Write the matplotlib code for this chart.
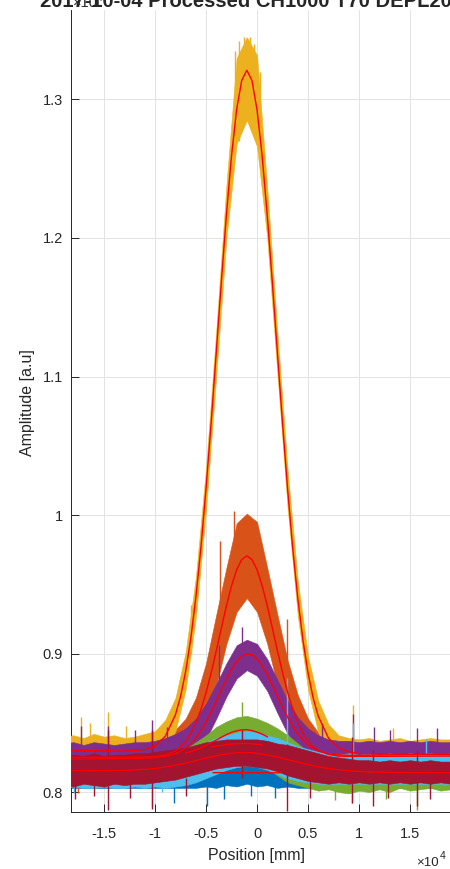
import matplotlib
matplotlib.use("Agg")
import matplotlib.pyplot as plt

plt.rcParams['font.family'] = ['Liberation Sans', 'DejaVu Sans']

# MATLAB default line colours, in plotting order
COLORS = {
    'blue': '#0072BD', 'orange': '#D95319', 'yellow': '#EDB120', 'purple': '#7E2F8E',
    'green': '#77AC30', 'lightblue': '#4DBEEE', 'darkred': '#A2142F',
}
ORDER = ['blue', 'orange', 'yellow', 'purple', 'green', 'lightblue', 'darkred']

# measured traces: lower / upper edge of the noisy band, every 1000 mm
POS = [-19000, -18000, -17000, -16000, -15000, -14000, -13000, -12000, -11000, -10000,
       -9000, -8000, -7000, -6000, -5000, -4000, -3000, -2000, -1000, 0,
       1000, 2000, 3000, 4000, 5000, 6000, 7000, 8000, 9000, 10000,
       11000, 12000, 13000, 14000, 15000, 16000, 17000, 18000, 19000]

BLUE_HI = [0.824, 0.825, 0.824, 0.825, 0.824, 0.825, 0.824, 0.825, 0.824, 0.825,
           0.824, 0.824, 0.824, 0.823, 0.822, 0.821, 0.821, 0.822, 0.821, 0.822,
           0.821, 0.821, 0.822, 0.823, 0.824, 0.824, 0.825, 0.824, 0.825, 0.824,
           0.825, 0.824, 0.825, 0.824, 0.825, 0.824, 0.825, 0.824, 0.825]
BLUE_LO = [0.803, 0.803, 0.803, 0.803, 0.803, 0.803, 0.803, 0.803, 0.803, 0.803,
           0.803, 0.803, 0.803, 0.803, 0.804, 0.803, 0.805, 0.804, 0.806, 0.804,
           0.805, 0.803, 0.804, 0.803, 0.803, 0.803, 0.803, 0.803, 0.803, 0.803,
           0.803, 0.803, 0.803, 0.803, 0.803, 0.803, 0.803, 0.803, 0.803]

ORANGE_HI = [0.836, 0.835, 0.836, 0.837, 0.835, 0.836, 0.836, 0.835, 0.836, 0.837,
             0.840, 0.845, 0.853, 0.868, 0.893, 0.928, 0.962, 0.994, 1.001, 0.995,
             0.962, 0.928, 0.895, 0.870, 0.853, 0.843, 0.838, 0.836, 0.835, 0.836,
             0.836, 0.835, 0.836, 0.836, 0.835, 0.836, 0.836, 0.835, 0.836]
ORANGE_LO = [0.812, 0.812, 0.812, 0.812, 0.812, 0.812, 0.812, 0.812, 0.812, 0.812,
             0.813, 0.815, 0.820, 0.832, 0.851, 0.877, 0.907, 0.930, 0.940, 0.930,
             0.907, 0.877, 0.850, 0.831, 0.820, 0.815, 0.813, 0.812, 0.812, 0.812,
             0.812, 0.812, 0.812, 0.812, 0.812, 0.812, 0.812, 0.812, 0.812]

YELLOW_HI = [0.840, 0.841, 0.839, 0.842, 0.840, 0.841, 0.839, 0.840, 0.842, 0.844,
             0.852, 0.868, 0.901, 0.955, 1.034, 1.133, 1.238, 1.330, 1.345, 1.332,
             1.236, 1.131, 1.032, 0.952, 0.898, 0.866, 0.849, 0.841, 0.839, 0.838,
             0.839, 0.837, 0.838, 0.839, 0.837, 0.838, 0.839, 0.838, 0.838]
YELLOW_LO = [0.821, 0.820, 0.822, 0.820, 0.821, 0.820, 0.822, 0.821, 0.821, 0.823,
             0.829, 0.844, 0.874, 0.926, 1.004, 1.101, 1.200, 1.268, 1.285, 1.266,
             1.200, 1.102, 1.005, 0.927, 0.874, 0.843, 0.829, 0.822, 0.819, 0.818,
             0.819, 0.818, 0.819, 0.818, 0.819, 0.818, 0.819, 0.818, 0.819]

PURPLE_HI = [0.835, 0.836, 0.834, 0.836, 0.835, 0.834, 0.835, 0.836, 0.836, 0.837,
             0.839, 0.842, 0.846, 0.853, 0.864, 0.878, 0.893, 0.906, 0.910, 0.907,
             0.896, 0.881, 0.866, 0.854, 0.846, 0.841, 0.838, 0.837, 0.837, 0.836,
             0.837, 0.836, 0.837, 0.836, 0.837, 0.836, 0.837, 0.836, 0.836]
PURPLE_LO = [0.813, 0.813, 0.813, 0.813, 0.813, 0.813, 0.813, 0.813, 0.813, 0.813,
             0.814, 0.816, 0.820, 0.827, 0.838, 0.853, 0.869, 0.882, 0.888, 0.884,
             0.873, 0.857, 0.842, 0.830, 0.822, 0.818, 0.816, 0.815, 0.815, 0.815,
             0.815, 0.815, 0.815, 0.815, 0.815, 0.815, 0.815, 0.815, 0.815]

GREEN_HI = [0.821, 0.822, 0.821, 0.822, 0.821, 0.822, 0.821, 0.822, 0.821, 0.822,
            0.824, 0.827, 0.831, 0.836, 0.841, 0.847, 0.851, 0.854, 0.855, 0.853,
            0.850, 0.846, 0.841, 0.835, 0.829, 0.824, 0.822, 0.821, 0.822, 0.821,
            0.822, 0.821, 0.822, 0.821, 0.822, 0.821, 0.822, 0.821, 0.822]
GREEN_LO = [0.805, 0.804, 0.806, 0.805, 0.804, 0.806, 0.805, 0.805, 0.806, 0.805,
            0.806, 0.806, 0.807, 0.809, 0.811, 0.814, 0.818, 0.821, 0.822, 0.820,
            0.817, 0.812, 0.807, 0.805, 0.803, 0.801, 0.802, 0.800, 0.799, 0.801,
            0.800, 0.802, 0.800, 0.803, 0.801, 0.802, 0.803, 0.801, 0.802]

LIGHTBLUE_HI = [0.824, 0.823, 0.824, 0.823, 0.824, 0.823, 0.824, 0.823, 0.824, 0.825,
                0.826, 0.827, 0.829, 0.832, 0.836, 0.839, 0.841, 0.843, 0.844, 0.843,
                0.841, 0.839, 0.836, 0.833, 0.831, 0.829, 0.828, 0.827, 0.828, 0.827,
                0.828, 0.827, 0.828, 0.827, 0.828, 0.827, 0.828, 0.827, 0.828]
LIGHTBLUE_LO = [0.803, 0.804, 0.803, 0.803, 0.804, 0.803, 0.803, 0.804, 0.803, 0.804,
                0.803, 0.804, 0.805, 0.807, 0.810, 0.813, 0.816, 0.818, 0.819, 0.818,
                0.816, 0.813, 0.810, 0.808, 0.807, 0.806, 0.806, 0.806, 0.806, 0.806,
                0.806, 0.806, 0.806, 0.806, 0.806, 0.806, 0.806, 0.806, 0.806]

DARKRED_HI = [0.826, 0.827, 0.826, 0.828, 0.826, 0.827, 0.827, 0.828, 0.828, 0.829,
              0.830, 0.831, 0.832, 0.834, 0.836, 0.837, 0.838, 0.838, 0.838, 0.838,
              0.837, 0.835, 0.834, 0.832, 0.830, 0.828, 0.826, 0.825, 0.824, 0.823,
              0.823, 0.822, 0.823, 0.822, 0.823, 0.822, 0.823, 0.822, 0.822]
DARKRED_LO = [0.805, 0.804, 0.806, 0.805, 0.804, 0.806, 0.805, 0.806, 0.806, 0.807,
              0.808, 0.809, 0.811, 0.813, 0.815, 0.817, 0.818, 0.819, 0.819, 0.818,
              0.817, 0.815, 0.812, 0.810, 0.808, 0.807, 0.806, 0.807, 0.806, 0.807,
              0.806, 0.807, 0.806, 0.807, 0.806, 0.807, 0.806, 0.807, 0.806]

BANDS = {
    'blue': (BLUE_LO, BLUE_HI), 'orange': (ORANGE_LO, ORANGE_HI),
    'yellow': (YELLOW_LO, YELLOW_HI), 'purple': (PURPLE_LO, PURPLE_HI),
    'green': (GREEN_LO, GREEN_HI), 'lightblue': (LIGHTBLUE_LO, LIGHTBLUE_HI),
    'darkred': (DARKRED_LO, DARKRED_HI),
}

# single-sample spikes sticking out of the bands: (position, low, high)
SPIKES = {
    'blue': [(-8100, 0.792, 0.81), (-4900, 0.790, 0.81), (-3200, 0.795, 0.81),
             (-600, 0.797, 0.81), (1800, 0.796, 0.81)],
    'orange': [(-17600, 0.799, 0.81), (-5200, 0.84, 0.885), (-3600, 0.90, 0.981),
               (-2300, 0.93, 1.003), (-800, 0.94, 0.998), (1400, 0.90, 0.945),
               (2900, 0.85, 0.925)],
    'yellow': [(-17300, 0.835, 0.854), (-16400, 0.835, 0.850), (-14600, 0.835, 0.858),
               (-12800, 0.835, 0.848), (-6500, 0.90, 0.935), (-2200, 1.27, 1.335),
               (-1800, 1.27, 1.342), (-1300, 1.29, 1.345), (-700, 1.29, 1.345),
               (-300, 1.28, 1.340), (300, 1.26, 1.320), (9400, 0.835, 0.863),
               (13300, 0.835, 0.846)],
    'purple': [(-17300, 0.830, 0.848), (-14600, 0.830, 0.848), (-12000, 0.830, 0.845),
               (-10300, 0.830, 0.852), (-8800, 0.830, 0.847), (-3700, 0.870, 0.906),
               (-1500, 0.895, 0.919), (6400, 0.830, 0.850), (9400, 0.830, 0.856),
               (11500, 0.830, 0.847), (13000, 0.830, 0.845), (15700, 0.830, 0.846),
               (17600, 0.830, 0.846)],
    'green': [(-10300, 0.790, 0.81), (-1450, 0.840, 0.865), (7600, 0.794, 0.81),
              (9300, 0.792, 0.81), (12600, 0.795, 0.81), (15700, 0.787, 0.81)],
    'lightblue': [(-17900, 0.799, 0.81), (-9300, 0.800, 0.81), (2900, 0.830, 0.882),
                  (9400, 0.825, 0.850), (16600, 0.825, 0.838)],
    'darkred': [(-17800, 0.795, 0.81), (-16000, 0.797, 0.81), (-14600, 0.787, 0.845),
                (-12500, 0.796, 0.81), (-10300, 0.788, 0.845), (-7000, 0.797, 0.81),
                (-1450, 0.810, 0.845), (2900, 0.786, 0.835), (5200, 0.796, 0.81),
                (9300, 0.792, 0.840), (11400, 0.790, 0.830), (12800, 0.796, 0.81),
                (15700, 0.790, 0.830), (17000, 0.795, 0.81)],
}

# fitted curves (red), sampled along the position axis
FIT_POS = [-19000, -16000, -13000, -11000, -10000, -9000, -8000,
           -7500, -7000, -6500, -6000, -5500, -5000, -4500, -4000, -3500, -3000,
           -2500, -2000, -1500, -1000, -500, 0, 500, 1000, 1500, 2000,
           2500, 3000, 3500, 4000, 4500, 5000, 5500, 6000,
           7000, 8000, 9000, 10000, 12000, 15000, 19000]

YELLOW_FIT = [0.8300, 0.8298, 0.8296, 0.8307, 0.8333, 0.8402, 0.8558,
              0.8689, 0.8870, 0.9106, 0.9404, 0.9767, 1.0192, 1.0666, 1.1172, 1.1684, 1.2170,
              1.2595, 1.2927, 1.3138, 1.3211, 1.3137, 1.2926, 1.2594, 1.2167, 1.1680, 1.1168,
              1.0662, 1.0186, 0.9759, 0.9396, 0.9098, 0.8861, 0.8680, 0.8548,
              0.8390, 0.8319, 0.8291, 0.8278, 0.8275, 0.8273, 0.8270]
ORANGE_FIT = [0.8250, 0.8251, 0.8252, 0.8253, 0.8256, 0.8268, 0.8297,
              0.8325, 0.8365, 0.8421, 0.8497, 0.8596, 0.8717, 0.8860, 0.9018, 0.9183, 0.9345,
              0.9489, 0.9604, 0.9679, 0.9705, 0.9679, 0.9605, 0.9490, 0.9346, 0.9185, 0.9020,
              0.8862, 0.8720, 0.8599, 0.8500, 0.8424, 0.8368, 0.8328, 0.8300,
              0.8272, 0.8259, 0.8258, 0.8258, 0.8258, 0.8259, 0.8260]
PURPLE_FIT = [0.8236, 0.8239, 0.8242, 0.8245, 0.8249, 0.8257, 0.8277,
              0.8294, 0.8317, 0.8350, 0.8391, 0.8443, 0.8505, 0.8577, 0.8655, 0.8736, 0.8814,
              0.8886, 0.8943, 0.8982, 0.8999, 0.8992, 0.8962, 0.8913, 0.8848, 0.8773, 0.8693,
              0.8614, 0.8540, 0.8476, 0.8420, 0.8376, 0.8341, 0.8316, 0.8297,
              0.8276, 0.8268, 0.8265, 0.8265, 0.8267, 0.8270, 0.8274]
DARKRED_FIT = [0.8154, 0.8154, 0.8156, 0.8164, 0.8170, 0.8181, 0.8194,
               0.8201, 0.8209, 0.8218, 0.8227, 0.8236, 0.8246, 0.8253, 0.8262, 0.8269, 0.8275,
               0.8280, 0.8283, 0.8285, 0.8285, 0.8283, 0.8280, 0.8274, 0.8268, 0.8261, 0.8253,
               0.8244, 0.8234, 0.8225, 0.8216, 0.8207, 0.8198, 0.8190, 0.8182,
               0.8170, 0.8160, 0.8154, 0.8149, 0.8144, 0.8141, 0.8139]

# these three fits only cover the central window
GREEN_FIT_POS = [-7000, -6500, -6000, -5500, -5000, -4500, -4000, -3500, -3000,
                 -2500, -2000, -1500, -1000, -500, 0, 500, 1000]
GREEN_FIT = [0.8282, 0.8292, 0.8304, 0.8318, 0.8336, 0.8355, 0.8375, 0.8396, 0.8415,
             0.8431, 0.8442, 0.8449, 0.8450, 0.8444, 0.8433, 0.8418, 0.8400]
LIGHTBLUE_FIT_POS = [-4500, -4000, -3500, -3000, -2500, -2000, -1500, -1000, -500, 0, 500]
LIGHTBLUE_FIT = [0.8325, 0.8332, 0.8338, 0.8343, 0.8347, 0.8349, 0.8350, 0.8350,
                 0.8348, 0.8345, 0.8341]
BLUE_FIT_POS = [-4300, 2250]
BLUE_FIT = [0.8140, 0.8139]

FITS = [
    (BLUE_FIT_POS, BLUE_FIT), (FIT_POS, ORANGE_FIT), (FIT_POS, YELLOW_FIT),
    (FIT_POS, PURPLE_FIT), (GREEN_FIT_POS, GREEN_FIT),
    (LIGHTBLUE_FIT_POS, LIGHTBLUE_FIT), (FIT_POS, DARKRED_FIT),
]

X_TICKS = [-15000, -10000, -5000, 0, 5000, 10000, 15000]
X_TICK_LABELS = ['-1.5', '-1', '-0.5', '0', '0.5', '1', '1.5']
Y_TICKS = [0.8, 0.9, 1.0, 1.1, 1.2, 1.3]
Y_TICK_LABELS = ['0.8', '0.9', '1', '1.1', '1.2', '1.3']

TXT = '#262626'

fig = plt.figure(figsize=(4.5, 8.69), dpi=100)
ax = fig.add_axes([0.1578, 0.0656, 0.8422, 0.9229])

# measured traces first, in plotting order
for i, key in enumerate(ORDER):
    z = 2 + 2 * i
    lo, hi = BANDS[key]
    ax.fill_between(POS, lo, hi, color=COLORS[key], lw=0.4, zorder=z)
    ax.vlines([s[0] for s in SPIKES[key]], [s[1] for s in SPIKES[key]],
              [s[2] for s in SPIKES[key]], colors=COLORS[key], lw=1.0, zorder=z + 1)

# fits on top
for fx, fy in FITS:
    ax.plot(fx, fy, color='#FF0000', lw=1.0, zorder=30)

ax.set_xlim(-18240, 18920)
ax.set_ylim(0.7856, 1.3646)
ax.set_xticks(X_TICKS)
ax.set_xticklabels(X_TICK_LABELS)
ax.set_yticks(Y_TICKS)
ax.set_yticklabels(Y_TICK_LABELS)

ax.grid(True, color='#e3e3e3', lw=0.7)
ax.set_axisbelow(True)
for side in ['top', 'right']:
    ax.spines[side].set_visible(False)
for side in ['left', 'bottom']:
    ax.spines[side].set_color(TXT)
    ax.spines[side].set_linewidth(0.7)
ax.tick_params(direction='in', length=6, width=0.7, colors=TXT, labelsize=10.5)
ax.tick_params(axis='x', pad=11)
ax.tick_params(axis='y', pad=6)

ax.set_xlabel('Position [mm]', fontsize=11.5, color=TXT)
ax.xaxis.set_label_coords(0.49, -0.045)
ax.set_ylabel('Amplitude [a.u]', fontsize=11.5, color=TXT)
ax.yaxis.set_label_coords(-0.095, 0.51)

# axis exponent labels
fig.text(416 / 450, 1 - 866 / 869, '×10', fontsize=9.5, color=TXT, ha='left', va='baseline')
fig.text(439.5 / 450, 1 - 859 / 869, '4', fontsize=7.5, color=TXT, ha='left', va='baseline')
fig.text(73 / 450, 1 - 7 / 869, '×10', fontsize=10.5, color=TXT, ha='left', va='baseline')
fig.text(97 / 450, 1 - 1 / 869, '4', fontsize=7.5, color=TXT, ha='left', va='baseline')

# title, mostly cut off at the top edge
fig.text(40 / 450, 1 - 7 / 869, '2017-10-04 Processed CH1000 T70 DEPL20',
         fontsize=14.5, fontweight='bold', color=TXT, ha='left', va='baseline')

fig.savefig('out.png', dpi=100)
